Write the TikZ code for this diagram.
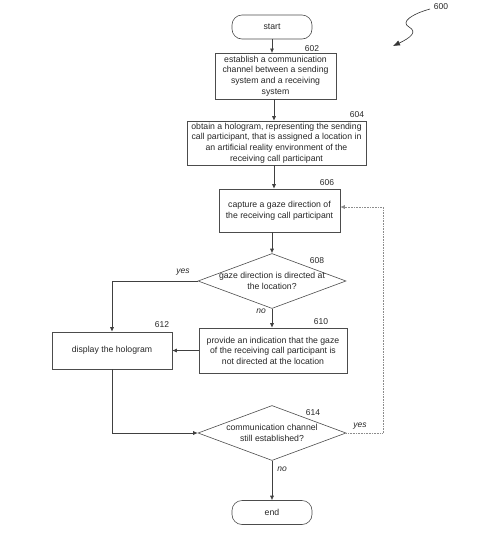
\documentclass[tikz,border=0pt]{standalone}
\usepackage{fontspec}
\setmainfont{Liberation Sans}
\usetikzlibrary{arrows.meta,shapes.geometric}
\begin{document}
\begin{tikzpicture}[x=1pt,y=-1pt,
  every node/.style={font=\fontsize{8.7}{10.6}\selectfont, text=black!85},
  box/.style={draw=black!70, line width=0.6pt, align=center, inner sep=1pt},
  term/.style={draw=black!70, line width=0.6pt, rounded corners=10pt, minimum width=80pt, minimum height=24pt},
  dec/.style={draw=black!70, line width=0.6pt, diamond, aspect=2.7, inner sep=0pt, align=center},
  conn/.style={draw=black!75, line width=0.6pt, -{Latex[length=4.5pt,width=4pt]}},
  loopc/.style={draw=black!45, line width=0.6pt, densely dotted, -{Latex[length=4.5pt,width=4pt]}},
  num/.style={font=\fontsize{8.5}{9}\selectfont},
  lab/.style={font=\fontsize{8.5}{9}\itshape}
]
\useasboundingbox (0,0) rectangle (504,547);
\node[term] (start) at (272,27) {start};
\node[box, minimum width=121pt, minimum height=46pt] (b602) at (275.5,76) {establish a communication\\channel between a sending\\system and a receiving\\system};
\node[box, minimum width=179pt, minimum height=44pt] (b604) at (276.5,143) {obtain a hologram, representing the sending\\call participant, that is assigned a location in\\an artificial reality environment of the\\receiving call participant};
\node[box, minimum width=121pt, minimum height=43pt] (b606) at (279.5,210.5) {capture a gaze direction of\\the receiving call participant};
\node[dec, minimum width=148pt, minimum height=55pt] (d608) at (272,281) {};
\node at (272,281) [align=center] {gaze direction is directed at\\the location?};
\node[box, minimum width=148pt, minimum height=45pt] (b610) at (273,350.5) {provide an indication that the gaze\\of the receiving call participant is\\not directed at the location};
\node[box, minimum width=120pt, minimum height=37pt] (b612) at (112,350.5) {display the hologram};
\node[dec, minimum width=148pt, minimum height=55pt] (d614) at (272,433) {};
\node at (272,433) [align=center] {communication channel\\still established?};
\node[term] (end) at (272,512.5) {end};

\node[num] at (312,49) {602};
\node[num] at (357,115) {604};
\node[num] at (327,183) {606};
\node[num] at (317,261) {608};
\node[num] at (321,322) {610};
\node[num] at (162,325) {612};
\node[num] at (313,413) {614};
\node[num] (n600) at (441,7) {600};

\node[lab] at (183,272) {yes};
\node[lab] at (261,311) {no};
\node[lab] at (360,426) {yes};
\node[lab] at (282,469) {no};

\coordinate (c600) at (430,9);
\coordinate (a600) at (393,46);
\draw[black!80, line width=0.6pt, -{Latex[length=7pt,width=5.5pt]}] (c600) .. controls (412,14) and (400,22) .. (409,27) .. controls (418,32) and (410,38) .. (a600);

\draw[conn] (start.south) -- (272,53);
\draw[conn] (b602.south -| 274,0) -- (b604.north -| 274,0);
\draw[conn] (b604.south -| 274,0) -- (b606.north -| 274,0);
\draw[conn] (b606.south -| 272,0) -- (d608.north);
\draw[conn] (d608.south) -- (b610.north -| d608.south);
\draw[conn] (d608.west) -| (b612.north);
\draw[conn] (b610.west) -- (b612.east);
\draw[conn] (b612.south) |- (d614.west);
\draw[conn] (d614.south) -- (end.north);
\coordinate (lp) at (383,433);
\draw[loopc] (d614.east) -- (lp) |- (b606.east |- 0,207);
\end{tikzpicture}
\end{document}
